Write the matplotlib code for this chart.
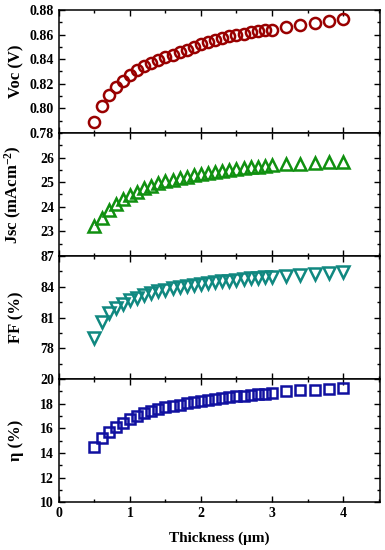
import matplotlib
matplotlib.use("Agg")
import matplotlib.pyplot as plt
from matplotlib.ticker import MultipleLocator

plt.rcParams['font.family'] = ['Liberation Serif', 'DejaVu Serif']
plt.rcParams['font.weight'] = 'bold'
plt.rcParams['mathtext.fontset'] = 'custom'
plt.rcParams['mathtext.rm'] = 'Liberation Serif:bold'
plt.rcParams['mathtext.bf'] = 'Liberation Serif:bold'
plt.rcParams['mathtext.default'] = 'bf'

# Espesor de la capa absorbente (um)
thickness = [0.5, 0.6, 0.7, 0.8, 0.9, 1.0, 1.1, 1.2, 1.3, 1.4, 1.5, 1.6, 1.7,
             1.8, 1.9, 2.0, 2.1, 2.2, 2.3, 2.4, 2.5, 2.6, 2.7, 2.8, 2.9, 3.0,
             3.2, 3.4, 3.6, 3.8, 4.0]

voc = [0.789, 0.802, 0.811, 0.8176, 0.8222, 0.8268, 0.8308, 0.8343, 0.837,
       0.8394, 0.8415, 0.8437, 0.8455, 0.8472, 0.8495, 0.8522, 0.8542,
       0.8557, 0.8571, 0.8585, 0.8596, 0.8606, 0.8617, 0.8625, 0.8633,
       0.8639, 0.866, 0.8679, 0.8692, 0.8706, 0.8725]

jsc = [23.2, 23.55, 23.85, 24.1, 24.3, 24.48, 24.62, 24.75, 24.86, 24.95,
       25.03, 25.1, 25.17, 25.23, 25.29, 25.34, 25.39, 25.43, 25.47, 25.51,
       25.54, 25.57, 25.6, 25.63, 25.66, 25.68, 25.72, 25.75, 25.78, 25.8,
       25.82]

ff = [79.0, 80.6, 81.4, 81.95, 82.35, 82.7, 82.95, 83.2, 83.4, 83.57, 83.72,
      83.85, 83.97, 84.08, 84.18, 84.3, 84.38, 84.46, 84.54, 84.61, 84.68,
      84.75, 84.81, 84.87, 84.93, 84.98, 85.08, 85.17, 85.26, 85.34, 85.42]

eta = [14.5, 15.2, 15.72, 16.12, 16.46, 16.73, 17.02, 17.21, 17.4, 17.55,
       17.7, 17.82, 17.93, 18.02, 18.1, 18.25, 18.33, 18.4, 18.47, 18.54,
       18.6, 18.66, 18.71, 18.76, 18.81, 18.86, 19.0, 19.08, 19.15, 19.21,
       19.27]

fig, axes = plt.subplots(4, 1, figsize=(3.85, 5.5), dpi=100, sharex=True)
fig.subplots_adjust(left=0.153, right=0.987, top=0.982, bottom=0.087, hspace=0)

# (datos, etiqueta, marcador, tamaño, color, ylim, ticks, minor)
paneles = [
    (voc, 'Voc (V)', 'o', 8, '#990000', (0.78, 0.88),
     [0.78, 0.80, 0.82, 0.84, 0.86, 0.88], 0.01),
    (jsc, 'Jsc (mAcm$^{-2}$)', '^', 9, '#109010', (22, 27),
     [23, 24, 25, 26], 0.5),
    (ff, 'FF (%)', 'v', 9, '#108880', (75, 87),
     [78, 81, 84, 87], 1.5),
    (eta, 'η (%)', 's', 7.5, '#1010a0', (10, 20),
     [10, 12, 14, 16, 18, 20], 1),
]

for ax, (y, label, mk, ms, col, lim, ticks, minor) in zip(axes, paneles):
    ax.plot(thickness, y, linestyle='none', marker=mk, markersize=ms,
            markerfacecolor='none', markeredgecolor=col, markeredgewidth=1.8)
    ax.set_ylim(*lim)
    ax.set_yticks(ticks)
    ax.yaxis.set_minor_locator(MultipleLocator(minor))
    if lim[0] < 1:
        ax.set_yticklabels([f'{t:.2f}' for t in ticks])
    ax.set_ylabel(label, fontsize=12, fontweight='bold', labelpad=4)
    ax.tick_params(which='both', direction='in', top=True, right=True,
                   labelsize=10, width=1)
    ax.tick_params(which='major', length=4)
    ax.tick_params(which='minor', length=2.5)
    for s in ax.spines.values():
        s.set_linewidth(1.1)

axes[-1].set_xlim(0, 4.52)
axes[-1].set_xticks([0, 1, 2, 3, 4])
axes[-1].xaxis.set_minor_locator(MultipleLocator(0.5))
axes[-1].set_xlabel('Thickness (μm)', fontsize=11, fontweight='bold', labelpad=8)
fig.align_ylabels(axes)

plt.savefig('out.png', dpi=100)
